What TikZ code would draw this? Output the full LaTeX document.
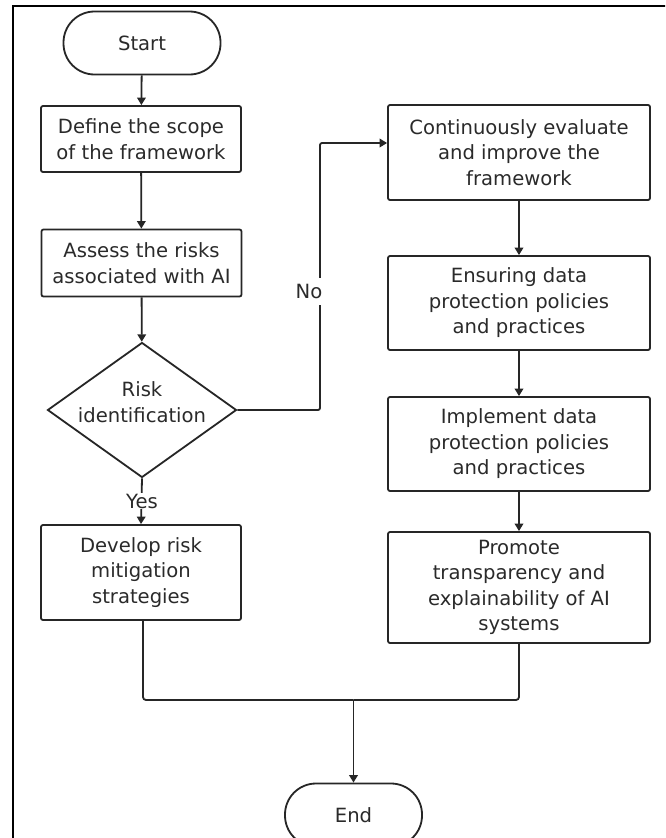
\documentclass[tikz,border=0pt]{standalone}
\usepackage{fontspec}
\setmainfont{DejaVu Sans}
\usetikzlibrary{arrows.meta,shapes.geometric}

\definecolor{ink}{HTML}{262626}
\definecolor{txt}{HTML}{2A2A2A}

\tikzset{
  every node/.style={font=\fontsize{19.6}{25.5}\selectfont, text=txt},
  flowline/.style={draw=ink, line width=1.8pt},
  flowarrow/.style={flowline, -{Triangle[width=8.5pt,length=7.5pt]}},
  procbox/.style={draw=ink, line width=1.8pt, rounded corners=2pt,
    align=center, inner sep=0pt},
  terminal/.style={draw=ink, line width=1.8pt, rounded corners=31pt,
    inner sep=0pt, minimum height=63pt},
  decision/.style={draw=ink, line width=1.8pt, shape=diamond, aspect=1.4,
    inner sep=0pt, minimum width=189pt, minimum height=135pt},
  branchlabel/.style={fill=white, inner xsep=3pt, inner ysep=1pt}
}

\begin{document}
\begin{tikzpicture}[x=1pt, y=-1pt]
  \useasboundingbox (0,0) rectangle (665,838);
  \fill[white] (0,0) rectangle (665,838);
  \clip (0,0) rectangle (665,838);

  % outer frame (left and top edges)
  \draw[line width=2.2pt, black] (13,840) -- (13,6) -- (667,6);

  % left column
  \node[terminal, minimum width=157pt] (start) at (142,43) {Start};
  \node[procbox, minimum width=200pt, minimum height=66pt] (scope) at (141,139)
    {Define the scope\\of the framework};
  \node[procbox, minimum width=200pt, minimum height=67pt] (assess) at (141.5,263)
    {Assess the risks\\associated with AI};
  \node[decision] (riskid) at (142,410) {};
  \node[align=center, inner sep=0pt] (riskidtext) at (142,402) {Risk\\identification};
  \node[procbox, minimum width=200pt, minimum height=95pt] (develop) at (141,572.5)
    {Develop risk\\mitigation\\strategies};

  % right column
  \node[procbox, minimum width=262pt, minimum height=95pt] (evaluate) at (519,152.5)
    {Continuously evaluate\\and improve the\\framework};
  \node[procbox, minimum width=262pt, minimum height=94pt] (ensure) at (519,303)
    {Ensuring data\\protection policies\\and practices};
  \node[procbox, minimum width=262pt, minimum height=94pt] (implement) at (519,444)
    {Implement data\\protection policies\\and practices};
  \node[procbox, minimum width=262pt, minimum height=111pt] (promote) at (519,587.5)
    {Promote\\transparency and\\explainability of AI\\systems};

  \node[terminal, minimum width=137pt] (finish) at (353.5,815) {End};

  % main sequence
  \draw[flowarrow] (start) -- (scope);
  \draw[flowarrow] (scope) -- (assess);
  \draw[flowarrow] (assess) -- (riskid);

  % "No" branch to the right column
  \coordinate (noturn) at (320,410);
  \draw[flowarrow, rounded corners=2pt] (riskid.east) -- (noturn) |- ([yshift=9.5pt]evaluate.west);
  \node[branchlabel, minimum height=27pt] (nolabel) at (309,291.5) {No};

  % "Yes" branch
  \draw[flowarrow] (riskid.south) -- (develop.north);
  \node[branchlabel] (yeslabel) at (142,501) {Yes};

  % right column sequence
  \draw[flowarrow] (evaluate) -- (ensure);
  \draw[flowarrow] (ensure) -- (implement);
  \draw[flowarrow] (implement) -- (promote);

  % both branches merge into End
  \coordinate (merge) at (353.5,700);
  \draw[flowline, rounded corners=3pt] ([xshift=2pt]develop.south) |- (merge);
  \draw[flowline, rounded corners=3pt] (promote.south) |- (merge);
  \draw[flowarrow] (merge) -- (finish.north);
\end{tikzpicture}
\end{document}
